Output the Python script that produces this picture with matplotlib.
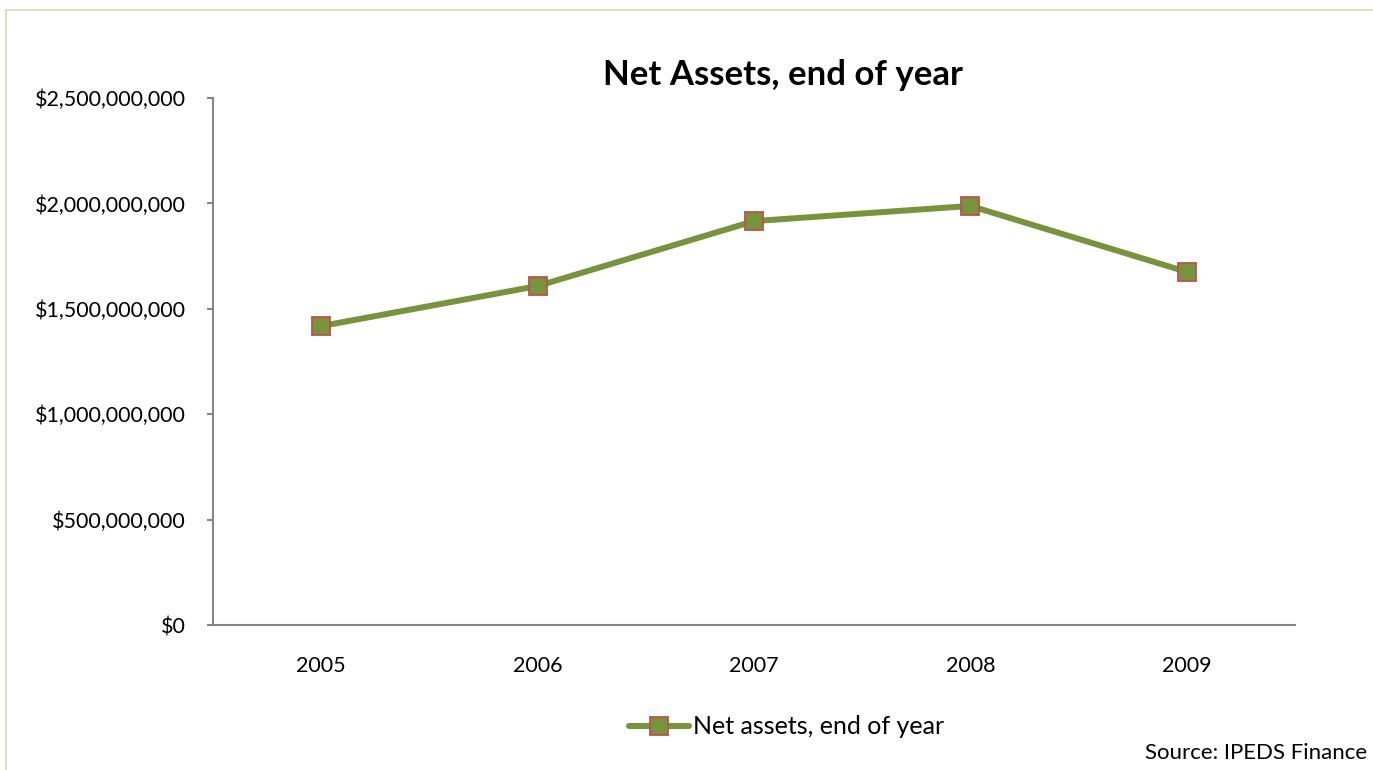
import matplotlib
matplotlib.use("Agg")
import matplotlib.pyplot as plt
from matplotlib.ticker import FuncFormatter, MultipleLocator
from matplotlib.lines import Line2D

years = ["2005", "2006", "2007", "2008", "2009"]
net_assets = [1.418e9, 1.608e9, 1.916e9, 1.988e9, 1.675e9]
series_label = "Net assets, end of year"
title = "Net Assets, end of year"
source = "Source: IPEDS Finance"

plt.rcParams['font.family'] = ['Lato', 'DejaVu Sans']

fig = plt.figure(figsize=(13.73, 7.70), dpi=100)
ax = fig.add_axes([213/1373, 1-625/770, (1295-213)/1373, (625-98)/770])

x = list(range(len(years)))
ax.plot(x, net_assets, color="#77933C", lw=4.3, marker="s", ms=13,
        markerfacecolor="#77933C", markeredgecolor="#C0504D", markeredgewidth=1.3,
        label=series_label, solid_capstyle="round")

ax.set_xlim(-0.5, len(years)-0.5)
ax.set_ylim(0, 2.5e9)
ax.yaxis.set_major_locator(MultipleLocator(5e8))
ax.yaxis.set_major_formatter(FuncFormatter(lambda v, p: "${:,.0f}".format(v)))
ax.set_xticks(x)
ax.set_xticklabels(years)

for s in ["top", "right"]:
    ax.spines[s].set_visible(False)
for s in ["left", "bottom"]:
    ax.spines[s].set_color("#868686")
    ax.spines[s].set_linewidth(1.5)
ax.tick_params(axis="y", length=4.5, width=1.5, color="#868686", labelsize=15.5, pad=15)
ax.tick_params(axis="x", length=0, labelsize=15.5, pad=22)

fig.text(0.570, 0.903, title, ha="center", va="center", fontsize=25, fontweight="bold")

handle = Line2D([], [], color="#77933C", lw=4.3, marker="s", ms=13,
                markerfacecolor="#77933C", markeredgecolor="#C0504D",
                markeredgewidth=1.3, solid_capstyle="round")
fig.legend([handle], [series_label], loc="center", bbox_to_anchor=(0.573, 1-727/770),
           frameon=False, fontsize=18, handlelength=2.4, handletextpad=0.15)

fig.text(0.996, 1-753/770, source, ha="right", va="center", fontsize=16)

# light green border (top and left visible)
fig.add_artist(Line2D([6/1373, 6/1373], [0, 1-10/770], color="#D7E4BD", lw=1.5, transform=fig.transFigure))
fig.add_artist(Line2D([6/1373, 1], [1-10/770, 1-10/770], color="#D7E4BD", lw=1.5, transform=fig.transFigure))

fig.savefig("out.png", dpi=100)
